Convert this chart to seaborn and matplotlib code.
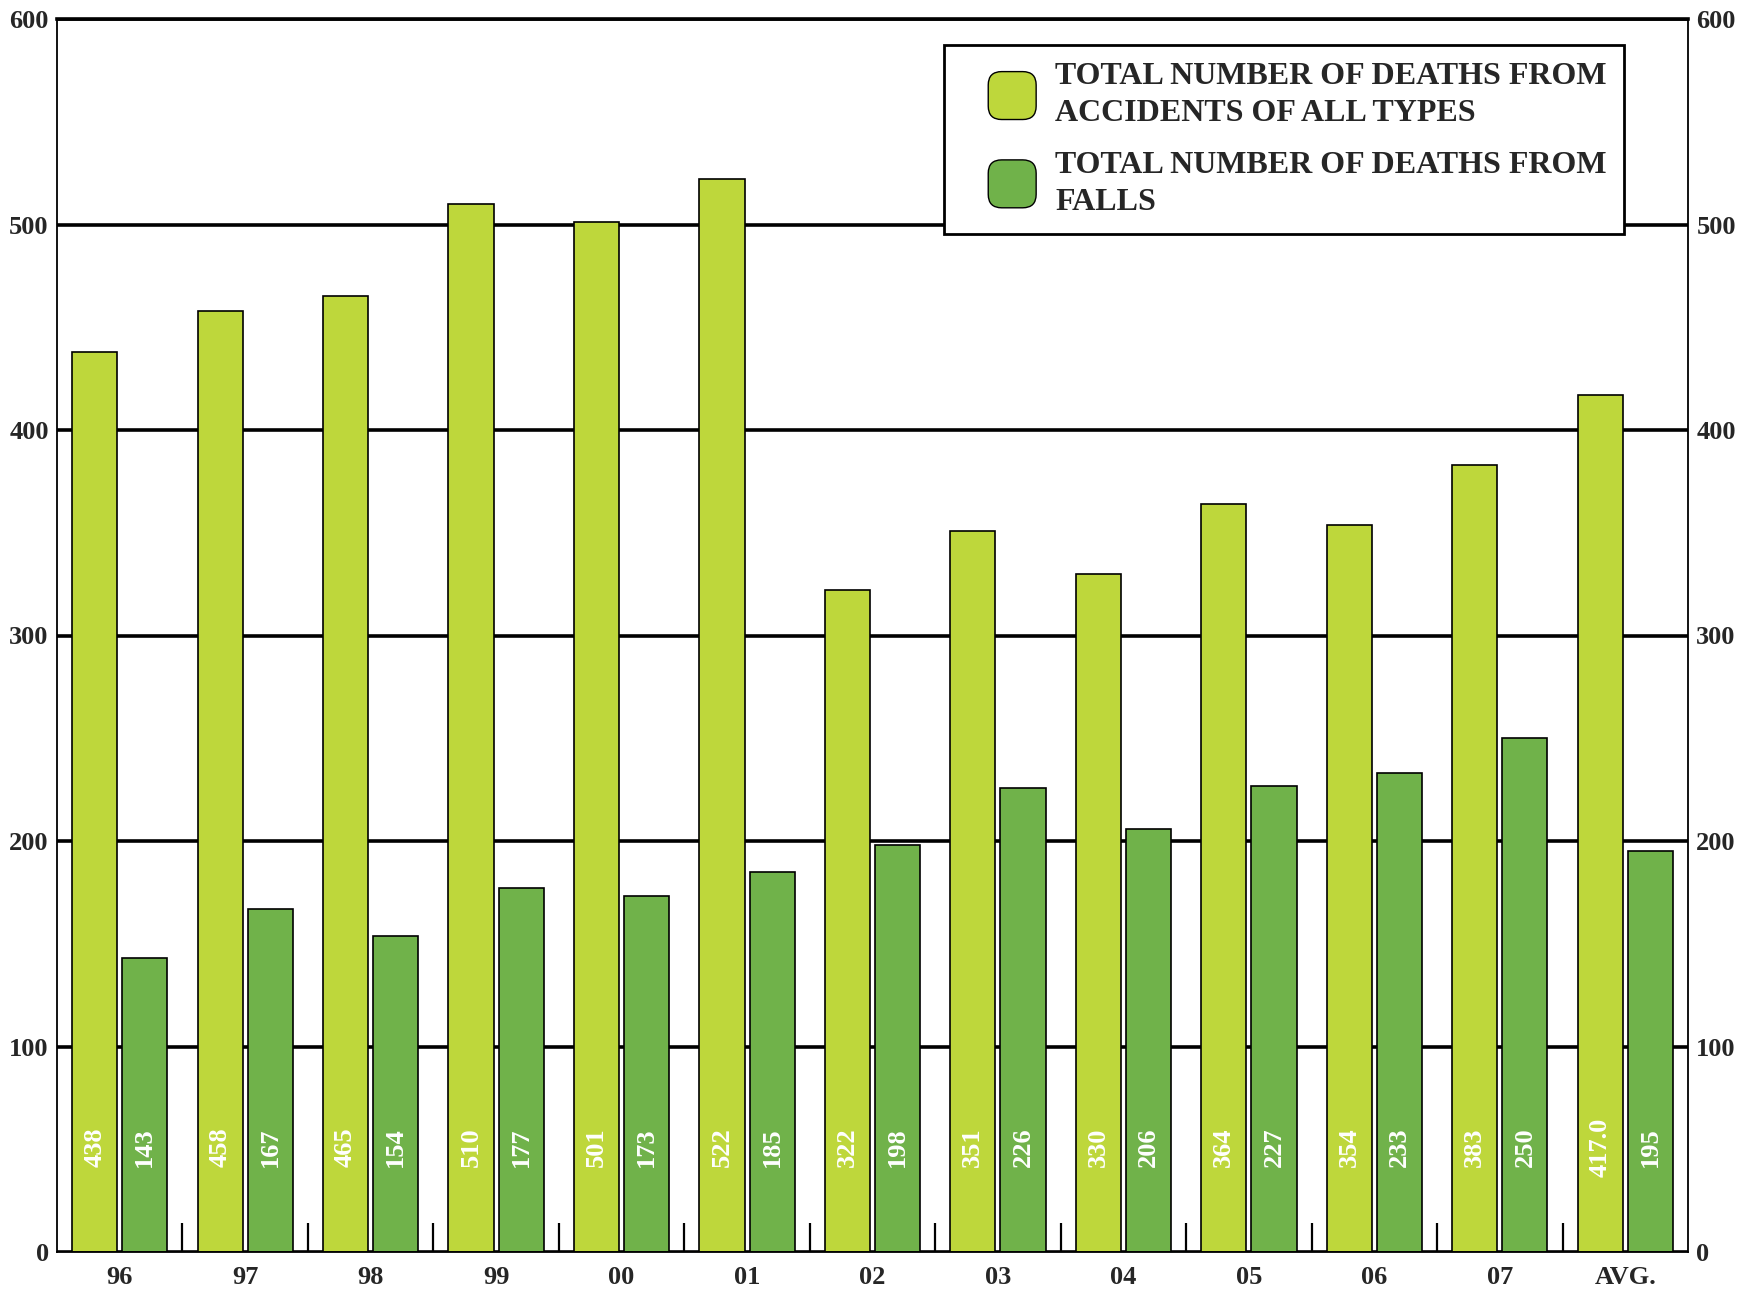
import matplotlib
matplotlib.use('Agg')
import matplotlib.pyplot as plt
import matplotlib.ticker as ticker
from matplotlib.legend_handler import HandlerPatch
from matplotlib.patches import FancyBboxPatch, Patch
import pandas as pd
import seaborn as sns

YEARS = ['96', '97', '98', '99', '00', '01', '02', '03', '04', '05', '06', '07', 'AVG.']
ALL_ACCIDENTS = [438, 458, 465, 510, 501, 522, 322, 351, 330, 364, 354, 383, 417.0]
FALLS = [143, 167, 154, 177, 173, 185, 198, 226, 206, 227, 233, 250, 195]
ALL_LABELS = ['438', '458', '465', '510', '501', '522', '322', '351', '330',
              '364', '354', '383', '417.0']
FALL_LABELS = [str(v) for v in FALLS]
SERIES = ['TOTAL NUMBER OF DEATHS FROM\nACCIDENTS OF ALL TYPES',
          'TOTAL NUMBER OF DEATHS FROM\nFALLS']
COLORS = ['#BED73B', '#70B24A']
Y_TICKS = [0, 100, 200, 300, 400, 500, 600]


def round_patch(legend, orig_handle, xdescent, ydescent, width, height, fontsize):
    # square swatch with rounded corners, pushed to the right of the handle box
    side = 1.5 * fontsize
    x0 = -xdescent + width - side
    y0 = -ydescent + height - side
    return FancyBboxPatch(
        (x0, y0), side, side,
        boxstyle='round,pad=0,rounding_size=%f' % (side * 0.28)
    )


def main():
    data = pd.DataFrame({
        'year': YEARS * 2,
        'deaths': ALL_ACCIDENTS + FALLS,
        'series': [SERIES[0]] * len(YEARS) + [SERIES[1]] * len(YEARS),
    })

    sns.set_style('white')
    plt.rcParams['font.family'] = ['Liberation Serif', 'DejaVu Serif']
    plt.rcParams['font.weight'] = 'bold'

    fig = plt.figure(figsize=(17.5, 12.92), dpi=100)
    ax = fig.add_axes([57 / 1750, 1 - 1252 / 1292, (1688 - 57) / 1750, (1252 - 19) / 1292])

    sns.barplot(
        data=data, x='year', y='deaths', hue='series',
        order=YEARS, hue_order=SERIES, palette=COLORS,
        width=0.8, gap=0.1, edgecolor='black', linewidth=1.2,
        saturation=1, legend=False, ax=ax
    )

    for container, labels in zip(ax.containers, [ALL_LABELS, FALL_LABELS]):
        for bar, lab in zip(container, labels):
            ax.text(bar.get_x() + bar.get_width() / 2, 51, lab,
                    rotation=90, ha='center', va='center',
                    color='white', fontsize=19, fontweight='bold')

    ax.set_xlim(-0.5, len(YEARS) - 0.5)
    ax.set_ylim(0, 600)
    ax.set_xlabel('')
    ax.set_ylabel('')
    ax.yaxis.set_major_locator(ticker.FixedLocator(Y_TICKS))
    ax.xaxis.set_minor_locator(ticker.FixedLocator([i + 0.5 for i in range(len(YEARS) - 1)]))
    ax.tick_params(axis='x', which='major', length=0, pad=10, labelsize=19)
    ax.tick_params(axis='x', which='minor', direction='in', length=21, width=1.6,
                   color='black', bottom=True)
    ax.tick_params(axis='y', length=0, pad=6, labelsize=19,
                   labelleft=True, labelright=True)
    for lab in ax.get_xticklabels() + ax.get_yticklabels():
        lab.set_fontweight('bold')

    ax.set_axisbelow(True)
    ax.yaxis.grid(True, color='black', linewidth=2.6)
    for side in ['left', 'right', 'bottom']:
        ax.spines[side].set_linewidth(1.3)
        ax.spines[side].set_color('black')
    ax.spines['top'].set_linewidth(2.6)
    ax.spines['top'].set_color('black')

    handles = [Patch(facecolor=c, edgecolor='black', linewidth=1) for c in COLORS]
    leg = ax.legend(
        handles, SERIES, loc='upper right', bbox_to_anchor=(0.961, 0.979),
        borderaxespad=0, frameon=True, fancybox=False,
        framealpha=1, edgecolor='black', handlelength=2.35, handleheight=2.0,
        handletextpad=0.6, labelspacing=0.7, borderpad=0.55,
        handler_map={Patch: HandlerPatch(patch_func=round_patch)},
        prop={'weight': 'bold', 'size': 23}
    )
    leg.get_frame().set_linewidth(2)
    for t in leg.get_texts():
        t.set_linespacing(1.36)

    fig.savefig('out.png', dpi=100)
    plt.close(fig)


if __name__ == '__main__':
    main()
